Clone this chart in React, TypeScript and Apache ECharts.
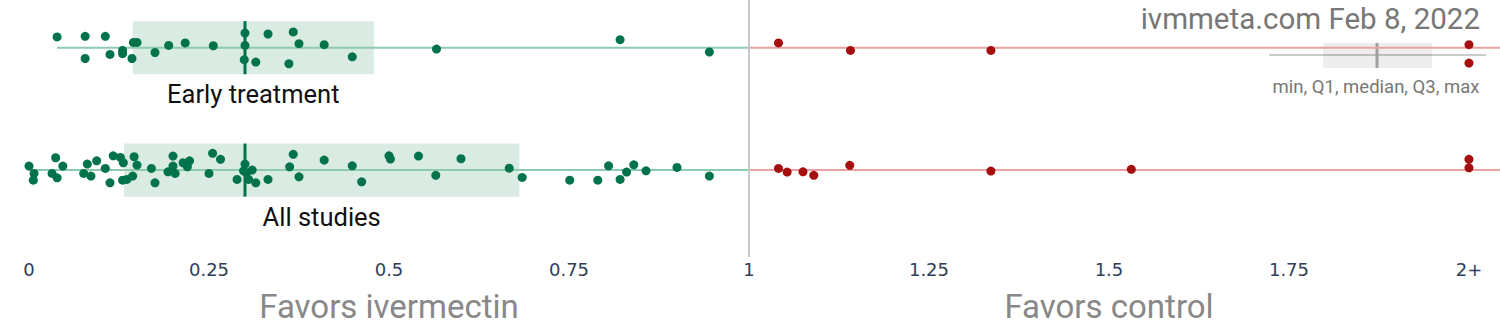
import React, { useEffect, useRef } from "react";
import * as echarts from "echarts";

// Row names and their vertical positions on the value axis
const rowNames = ["Early treatment", "All studies"];
const rowPos = [2, 1];

// [relative effect, vertical jitter] for each study
const earlyGreen: [number, number][] = [
  [0.039, 0.088], [0.078, 0.093], [0.106, 0.093], [0.078, -0.088], [0.1125, -0.055],
  [0.130, -0.022], [0.130, -0.049], [0.143, -0.088], [0.145, 0.043], [0.150, 0.043],
  [0.175, -0.039], [0.194, 0.019], [0.217, 0.039], [0.256, 0.016], [0.300, 0.120],
  [0.300, 0.019], [0.299, -0.098], [0.315, -0.117], [0.332, 0.112], [0.367, 0.129],
  [0.375, 0.033], [0.361, -0.131], [0.410, 0.025], [0.449, -0.074], [0.566, -0.011],
  [0.821, 0.066], [0.945, -0.035],
];
const earlyRed: [number, number][] = [
  [1.041, 0.039], [1.141, -0.022], [1.336, -0.022], [2.0, 0.025], [2.0, -0.125],
];
const allGreen: [number, number][] = [
  [0.000, 0.033], [0.007, -0.027], [0.006, -0.082], [0.037, 0.101], [0.032, -0.027],
  [0.039, -0.063], [0.047, 0.033], [0.081, 0.049], [0.076, -0.027], [0.086, -0.049],
  [0.094, 0.076], [0.106, 0.014], [0.1125, -0.104], [0.117, 0.117], [0.127, 0.104],
  [0.131, 0.060], [0.146, 0.109], [0.150, 0.041], [0.144, -0.049], [0.136, -0.076],
  [0.130, -0.082], [0.170, 0.014], [0.175, -0.104], [0.200, 0.115], [0.200, 0.033],
  [0.193, -0.014], [0.203, -0.027], [0.214, 0.060], [0.223, 0.076], [0.220, 0.027],
  [0.255, 0.137], [0.266, 0.088], [0.250, -0.027], [0.300, 0.049], [0.298, -0.006],
  [0.302, -0.022], [0.310, 0.0], [0.289, -0.076], [0.305, -0.076], [0.315, -0.104],
  [0.332, -0.076], [0.367, 0.129], [0.362, 0.027], [0.375, -0.055], [0.410, 0.082],
  [0.449, 0.035], [0.462, -0.096], [0.500, 0.117], [0.502, 0.090], [0.541, 0.115],
  [0.565, -0.043], [0.600, 0.093], [0.667, 0.016], [0.685, -0.060], [0.751, -0.082],
  [0.790, -0.082], [0.805, 0.035], [0.821, -0.076], [0.830, -0.016], [0.840, 0.043],
  [0.857, -0.006], [0.900, 0.022], [0.945, -0.049],
];
const allRed: [number, number][] = [
  [1.041, 0.014], [1.053, -0.016], [1.075, -0.014], [1.090, -0.043], [1.140, 0.039],
  [1.336, -0.008], [1.531, 0.006], [2.0, 0.088], [2.0, 0.019],
];

// Box statistics per row (Q1, median, Q3)
const boxQ1 = [0.144, 0.132];
const boxMedian = [0.3, 0.3];
const boxQ3 = [0.479, 0.681];

const sideLabels = ["Favors ivermectin", "Favors control"];
const sideLabelX = [0.5, 1.5];
const titleText = "ivmmeta.com Feb 8, 2022";
const legendText = "min, Q1, median, Q3, max";

const X_MAX = 2.0431;
const BOX_HALF = 0.217;
const GREEN = "#00734b";
const RED = "#a50f0f";
const GREEN_LINE = "#8ccbb0";
const RED_LINE = "#e8a2a2";

export default function App() {
  const ref = useRef<HTMLDivElement>(null);
  useEffect(() => {
    if (!ref.current) return;
    const chart = echarts.init(ref.current, null, { renderer: "svg" });
    const greenRows = [earlyGreen, allGreen];
    const redRows = [earlyRed, allRed];

    const series: any[] = [];
    series.push({
      type: "custom",
      silent: true,
      z: 1,
      data: rowPos.map((r, i) => [r, boxQ1[i], boxMedian[i], boxQ3[i]]),
      encode: { x: [1, 2, 3], y: 0 },
      renderItem: (params: any, api: any) => {
        const y = api.value(0);
        const q1 = api.value(1);
        const med = api.value(2);
        const q3 = api.value(3);
        const tl = api.coord([q1, y + BOX_HALF]);
        const br = api.coord([q3, y - BOX_HALF]);
        const mt = api.coord([med, y + BOX_HALF]);
        const mb = api.coord([med, y - BOX_HALF]);
        return {
          type: "group",
          children: [
            {
              type: "rect",
              shape: { x: tl[0], y: tl[1], width: br[0] - tl[0], height: br[1] - tl[1] },
              style: { fill: "rgba(0,120,70,0.15)" },
            },
            {
              type: "line",
              z2: 5,
              shape: { x1: mt[0], y1: mt[1], x2: mb[0], y2: mb[1] },
              style: { stroke: GREEN, lineWidth: 3 },
            },
            {
              type: "text",
              x: (tl[0] + br[0]) / 2,
              y: br[1] + 20,
              style: {
                text: rowNames[params.dataIndex],
                fill: "#111",
                fontSize: 25.5,
                fontFamily: "Roboto",
                align: "center",
                verticalAlign: "middle",
              },
            },
          ],
        };
      },
    });

    rowPos.forEach((r, i) => {
      const minX = Math.min(...greenRows[i].map((p) => p[0]));
      series.push({
        type: "line",
        silent: true,
        z: 2,
        symbol: "none",
        data: [[minX, r], [1, r]],
        lineStyle: { color: GREEN_LINE, width: 2 },
      });
      series.push({
        type: "line",
        silent: true,
        z: 2,
        symbol: "none",
        data: [[1, r], [X_MAX, r]],
        lineStyle: { color: RED_LINE, width: 2 },
      });
      series.push({
        type: "scatter",
        silent: true,
        z: 3,
        symbolSize: 9,
        itemStyle: { color: GREEN, opacity: 1 },
        data: greenRows[i].map(([x, j]) => [x, r + j]),
      });
      series.push({
        type: "scatter",
        silent: true,
        z: 3,
        symbolSize: 9,
        itemStyle: { color: RED, opacity: 1 },
        data: redRows[i].map(([x, j]) => [x, r + j]),
      });
    });

    series.push({
      type: "line",
      data: [],
      silent: true,
      markLine: {
        silent: true,
        symbol: "none",
        label: { show: false },
        lineStyle: { color: "#c8c8c8", width: 2, type: "solid" },
        data: [{ xAxis: 1 }],
      },
    });

    chart.setOption({
      animation: false,
      grid: { left: 29, right: 0, top: 0, height: 257 },
      xAxis: {
        type: "value",
        min: 0,
        max: X_MAX,
        interval: 0.25,
        axisLine: { show: false },
        axisTick: { show: false },
        splitLine: { show: false },
        axisLabel: {
          showMaxLabel: false,
          margin: 3,
          color: "#2f3d58",
          fontSize: 18,
          fontFamily: "DejaVu Sans",
          formatter: (v: number) => (Math.abs(v - 2) < 1e-9 ? "2+" : String(v)),
        },
      },
      yAxis: {
        type: "value",
        min: 0.29,
        max: 2.39,
        show: false,
        splitLine: { show: false },
      },
      graphic: [
        ...sideLabels.map((t, i) => ({
          type: "text",
          x: 29 + sideLabelX[i] * 720,
          y: 306,
          style: {
            text: t,
            fill: "#888",
            fontSize: 33,
            fontFamily: "Roboto",
            align: "center",
            verticalAlign: "middle",
          },
        })),
        {
          type: "text",
          x: 1480,
          y: 19,
          style: {
            text: titleText,
            fill: "#777",
            fontSize: 29.5,
            fontFamily: "Roboto",
            align: "right",
            verticalAlign: "middle",
          },
        },
        {
          type: "line",
          shape: { x1: 1269, y1: 55, x2: 1486, y2: 55 },
          style: { stroke: "#cccccc", lineWidth: 2 },
        },
        {
          type: "rect",
          shape: { x: 1323, y: 43, width: 109, height: 25 },
          style: { fill: "rgba(0,0,0,0.07)" },
        },
        {
          type: "line",
          shape: { x1: 1377, y1: 43, x2: 1377, y2: 68 },
          style: { stroke: "#a0a0a0", lineWidth: 3 },
        },
        {
          type: "text",
          x: 1376,
          y: 87,
          style: {
            text: legendText,
            fill: "#777",
            fontSize: 18.5,
            fontFamily: "Roboto",
            align: "center",
            verticalAlign: "middle",
          },
        },
      ],
      series,
    });
    return () => chart.dispose();
  }, []);
  return (
    <div
      ref={ref}
      style={{ position: "absolute", left: 0, top: 0, width: 1500, height: 330 }}
    />
  );
}
